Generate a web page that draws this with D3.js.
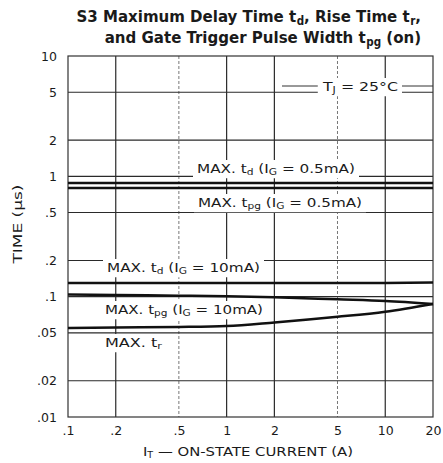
<!DOCTYPE html>
<html><head><meta charset="utf-8">
<script src="https://cdn.jsdelivr.net/npm/d3@7"></script>
<style>
html,body{margin:0;padding:0;background:#fff;}
svg{display:block;}
text{font-family:"DejaVu Sans","Liberation Sans",Arial,sans-serif;fill:#1a1a1a;}
</style></head>
<body>
<svg id="chart" width="443" height="463"></svg>
<script>
// ---- data ----
const currents = [0.1, 0.2, 0.5, 1, 2, 5, 10, 20];            // I_T (A)
const tdLowGate = [0.88, 0.88, 0.88, 0.88, 0.88, 0.88, 0.88, 0.88];   // MAX td (IG=0.5mA)
const tpgLowGate = [0.80, 0.80, 0.80, 0.80, 0.80, 0.80, 0.80, 0.80];  // MAX tpg (IG=0.5mA)
const tdHighGate = [0.13, 0.13, 0.13, 0.13, 0.13, 0.13, 0.13, 0.131]; // MAX td (IG=10mA)
const tpgHighGate = [0.104, 0.103, 0.102, 0.101, 0.099, 0.095, 0.092, 0.087]; // MAX tpg (IG=10mA)
const trMax = [0.055, 0.0555, 0.056, 0.057, 0.061, 0.068, 0.075, 0.087];   // MAX tr
const xTickValues = [0.1, 0.2, 0.5, 1, 2, 5, 10, 20];
const xTickLabels = [".1", ".2", ".5", "1", "2", "5", "10", "20"];
const yTickValues = [10, 5, 2, 1, 0.5, 0.2, 0.1, 0.05, 0.02, 0.01];
const yTickLabels = ["10", "5", "2", "1", ".5", ".2", ".1", ".05", ".02", ".01"];

const svg = d3.select("#chart");
const pL = 68, pR = 433, pT = 56, pB = 417;
const x = d3.scaleLog().domain([0.1, 20]).range([pL, pR]);
const y = d3.scaleLog().domain([0.01, 10]).range([pB, pT]);

// gridlines
const g = svg.append("g");
const dashedX = [0.5, 5];
g.selectAll("line.vx").data(xTickValues.slice(1, -1)).enter().append("line")
  .attr("x1", d => x(d)).attr("x2", d => x(d)).attr("y1", pT).attr("y2", pB)
  .attr("stroke", d => dashedX.includes(d) ? "#777" : "#2a2a2a")
  .attr("stroke-width", d => dashedX.includes(d) ? 1 : 1.2)
  .attr("stroke-dasharray", d => dashedX.includes(d) ? "3,2" : null);
g.selectAll("line.hy").data(yTickValues.slice(1, -1)).enter().append("line")
  .attr("x1", pL).attr("x2", pR).attr("y1", d => y(d)).attr("y2", d => y(d))
  .attr("stroke", "#2a2a2a").attr("stroke-width", 1.1);

// frame
svg.append("rect").attr("x", pL).attr("y", pT).attr("width", pR - pL).attr("height", pB - pT)
  .attr("fill", "none").attr("stroke", "#333").attr("stroke-width", 1.2);

// axes labels
const xAxis = d3.axisBottom(x).tickValues(xTickValues).tickFormat((d, i) => xTickLabels[i]).tickSize(0).tickPadding(9);
const xa = svg.append("g").attr("transform", `translate(0,${pB})`).call(xAxis);
xa.select(".domain").remove();
xa.selectAll("text").attr("font-size", 12.5).attr("fill", "#1a1a1a").attr("font-family", "DejaVu Sans, sans-serif");

const yAxis = d3.axisLeft(y).tickValues(yTickValues).tickFormat((d, i) => yTickLabels[i]).tickSize(0).tickPadding(11);
const ya = svg.append("g").attr("transform", `translate(${pL},0)`).call(yAxis);
ya.select(".domain").remove();
ya.selectAll("text").attr("font-size", 12.5).attr("fill", "#1a1a1a").attr("font-family", "DejaVu Sans, sans-serif");

// curves
const line = d3.line().x(d => x(d[0])).y(d => y(d[1])).curve(d3.curveMonotoneX);
const series = [tdLowGate, tpgLowGate, tdHighGate, tpgHighGate, trMax];
series.forEach(s => {
  svg.append("path").datum(currents.map((c, i) => [c, s[i]]))
    .attr("d", line).attr("fill", "none").attr("stroke", "#111").attr("stroke-width", 2.5);
});

// label helper with white background
function label(xp, yp, parts, size, len) {
  const t = svg.append("text").attr("x", xp).attr("y", yp).attr("font-size", size);
  parts.forEach(p => {
    const ts = t.append("tspan").text(p[0]);
    if (p[1] === "sub") ts.attr("font-size", size * 0.7).attr("baseline-shift", "-25%");
  });
  if (len) t.attr("textLength", len).attr("lengthAdjust", "spacingAndGlyphs");
  const bb = t.node().getBBox();
  svg.insert("rect", function() { return t.node(); })
    .attr("x", bb.x - 4).attr("y", bb.y - 1).attr("width", bb.width + 8).attr("height", bb.height + 2)
    .attr("fill", "#fff");
  return t;
}

label(197, 173, [["MAX. t"], ["d", "sub"], [" (I"], ["G", "sub"], [" = 0.5mA)"]], 13, 158);
label(198, 207, [["MAX. t"], ["pg", "sub"], [" (I"], ["G", "sub"], [" = 0.5mA)"]], 13, 164);
label(107, 272, [["MAX. t"], ["d", "sub"], [" (I"], ["G", "sub"], [" = 10mA)"]], 13, 153);
label(105, 314, [["MAX. t"], ["pg", "sub"], [" (I"], ["G", "sub"], [" = 10mA)"]], 13, 158);
label(105, 347, [["MAX. t"], ["r", "sub"]], 13, 57);

// Tj annotation
const tj = label(323, 91, [["T"], ["J", "sub"], [" = 25°C"]], 13, 75);
const tjbb = tj.node().getBBox();
svg.append("line").attr("x1", 282).attr("x2", tjbb.x - 4).attr("y1", 86).attr("y2", 86).attr("stroke", "#333");
svg.append("line").attr("x1", tjbb.x + tjbb.width + 4).attr("x2", 433).attr("y1", 86).attr("y2", 86).attr("stroke", "#333");

// title
const titleFont = "'DejaVu Sans Condensed','DejaVu Sans',sans-serif";
const t1 = svg.append("text").attr("x", 421).attr("y", 22).attr("text-anchor", "end")
  .attr("font-size", 16.7).attr("font-weight", "bold").style("font-family", titleFont);
t1.append("tspan").text("S3  Maximum Delay Time t");
t1.append("tspan").text("d").attr("font-size", 11.5).attr("dx", 0.5).attr("baseline-shift", "-25%");
t1.append("tspan").text(", Rise Time t");
t1.append("tspan").text("r").attr("font-size", 11.5).attr("dx", 0.5).attr("baseline-shift", "-25%");
t1.append("tspan").text(",");
const t2 = svg.append("text").attr("x", 421).attr("y", 43).attr("text-anchor", "end")
  .attr("font-size", 16.7).attr("font-weight", "bold").style("font-family", titleFont);
t2.append("tspan").text("and Gate Trigger Pulse Width t");
t2.append("tspan").text("pg").attr("font-size", 11.5).attr("dx", 0.5).attr("baseline-shift", "-25%");
t2.append("tspan").text(" (on)");

// axis titles
const xt = svg.append("text").attr("x", 143).attr("y", 456).attr("font-size", 12.5)
  .attr("textLength", 210).attr("lengthAdjust", "spacingAndGlyphs");
xt.append("tspan").text("I");
xt.append("tspan").text("T").attr("font-size", 8).attr("baseline-shift", "-25%");
xt.append("tspan").text(" — ON-STATE CURRENT (A)");

svg.append("text").attr("transform", "translate(22,224) rotate(-90)").attr("text-anchor", "middle")
  .attr("font-size", 12).attr("textLength", 79).attr("lengthAdjust", "spacingAndGlyphs").text("TIME (μs)");
</script>
</body></html>
